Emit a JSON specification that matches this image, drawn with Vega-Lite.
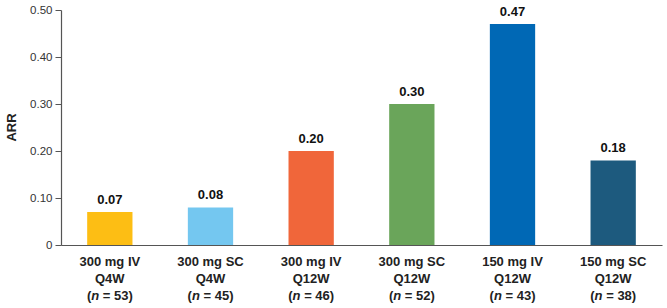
{
  "$schema": "https://vega.github.io/schema/vega-lite/v6.json",
  "width": 601,
  "height": 235,
  "autosize": {"type": "none"},
  "padding": {"left": 61, "top": 10, "right": 5, "bottom": 63},
  "background": "white",
  "config": {
    "view": {"stroke": null},
    "font": "Liberation Sans"
  },
  "data": {
    "values": [
      {"group": "300 mg IV|Q4W", "arr": 0.07, "label": "0.07", "nrest": "= 53)"},
      {"group": "300 mg SC|Q4W", "arr": 0.08, "label": "0.08", "nrest": "= 45)"},
      {"group": "300 mg IV|Q12W", "arr": 0.20, "label": "0.20", "nrest": "= 46)"},
      {"group": "300 mg SC|Q12W", "arr": 0.30, "label": "0.30", "nrest": "= 52)"},
      {"group": "150 mg IV|Q12W", "arr": 0.47, "label": "0.47", "nrest": "= 43)"},
      {"group": "150 mg SC|Q12W", "arr": 0.18, "label": "0.18", "nrest": "= 38)"}
    ]
  },
  "encoding": {
    "x": {
      "field": "group",
      "type": "nominal",
      "sort": null,
      "scale": {"paddingInner": 0.55, "paddingOuter": 0.26},
      "axis": {
        "title": null,
        "labelAngle": 0,
        "labelExpr": "split(datum.label, '|')",
        "labelFontWeight": "bold",
        "labelFontSize": 13,
        "labelLineHeight": 17,
        "labelPadding": 10,
        "labelColor": "#222222",
        "ticks": false,
        "domainColor": "#555555",
        "domainWidth": 1.2
      }
    }
  },
  "layer": [
    {
      "mark": {"type": "bar"},
      "encoding": {
        "y": {
          "field": "arr",
          "type": "quantitative",
          "scale": {"domain": [0, 0.5], "nice": false},
          "axis": {
            "title": "ARR",
            "titleFontWeight": "bold",
            "titleFontSize": 13,
            "titleColor": "#222222",
            "titleX": -43,
            "titleY": 117,
            "values": [0, 0.1, 0.2, 0.3, 0.4, 0.5],
            "labelExpr": "datum.value == 0 ? '0' : format(datum.value, '.2f')",
            "labelFontSize": 11.5,
            "labelColor": "#333333",
            "labelPadding": 3,
            "tickSize": 6,
            "tickColor": "#555555",
            "domainColor": "#555555",
            "domainWidth": 1.2,
            "grid": false
          }
        },
        "color": {
          "field": "group",
          "type": "nominal",
          "legend": null,
          "scale": {
            "domain": ["300 mg IV|Q4W", "300 mg SC|Q4W", "300 mg IV|Q12W", "300 mg SC|Q12W", "150 mg IV|Q12W", "150 mg SC|Q12W"],
            "range": ["#FDBE14", "#74C7F0", "#F0663A", "#6AA55A", "#0068B5", "#1D5A7E"]
          }
        }
      }
    },
    {
      "mark": {"type": "text", "fontWeight": "bold", "fontSize": 13, "baseline": "alphabetic", "dy": -8, "color": "#111111"},
      "encoding": {
        "y": {"field": "arr", "type": "quantitative"},
        "text": {"field": "label"}
      }
    },
    {
      "mark": {"type": "text", "fontWeight": "bold", "fontSize": 13, "baseline": "middle", "align": "right", "dx": -18.6, "dy": 51, "color": "#222222"},
      "encoding": {
        "y": {"datum": 0, "type": "quantitative"},
        "text": {"value": "("}
      }
    },
    {
      "mark": {"type": "text", "fontWeight": "bold", "fontStyle": "italic", "fontSize": 13, "baseline": "middle", "align": "center", "dx": -14.6, "dy": 51, "color": "#222222"},
      "encoding": {
        "y": {"datum": 0, "type": "quantitative"},
        "text": {"value": "n"}
      }
    },
    {
      "mark": {"type": "text", "fontWeight": "bold", "fontSize": 13, "baseline": "middle", "align": "left", "dx": -7, "dy": 51, "color": "#222222"},
      "encoding": {
        "y": {"datum": 0, "type": "quantitative"},
        "text": {"field": "nrest"}
      }
    }
  ]
}
